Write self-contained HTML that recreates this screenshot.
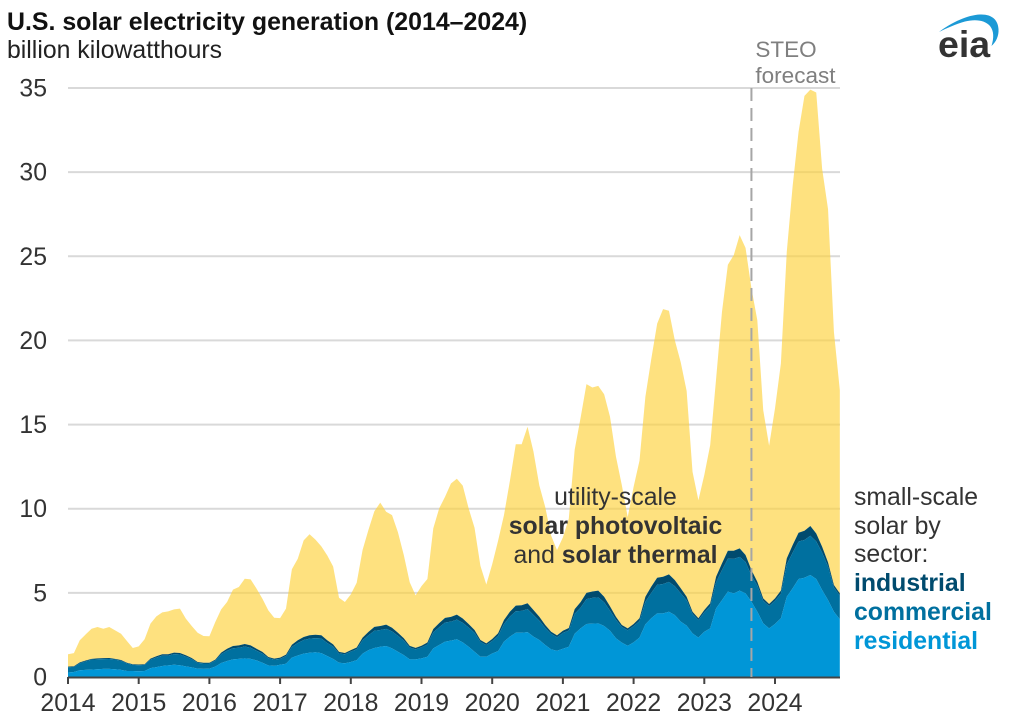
<!DOCTYPE html>
<html lang="en">
<head>
<meta charset="utf-8">
<title>U.S. solar electricity generation (2014–2024)</title>
<style>
html,body{margin:0;padding:0;background:#fff;}
svg{display:block;font-family:"Liberation Sans",Arial,sans-serif;}
text{font-size:24.8px;fill:#333;}
.b{font-weight:bold;}
</style>
</head>
<body>
<svg id="chart" width="1012" height="720" viewBox="0 0 1012 720" xmlns="http://www.w3.org/2000/svg">
  <text x="7" y="30" class="b" style="font-size:24.9px;fill:#111">U.S. solar electricity generation (2014–2024)</text>
  <text x="7" y="58" style="fill:#222">billion kilowatthours</text>
  <g id="grid"></g>
  <g id="areas"></g>
  <g id="axes"></g>
  <g id="forecast"></g>
  <g text-anchor="middle">
    <text x="615.5" y="505">utility-scale</text>
    <text x="615.5" y="534" class="b">solar photovoltaic</text>
    <text x="615.5" y="563">and <tspan class="b">solar thermal</tspan></text>
  </g>
  <g>
    <text x="854" y="505">small-scale</text>
    <text x="854" y="534">solar by</text>
    <text x="854" y="562">sector:</text>
    <text x="854" y="591" class="b" style="fill:#004b6e">industrial</text>
    <text x="854" y="620" class="b" style="fill:#00709f">commercial</text>
    <text x="854" y="649" class="b" style="fill:#0096d7">residential</text>
  </g>
  <g>
    <path d="M939 32 C952 22 968 15 980 14.500 C992 14 998 20 998.500 29 C999 36 996 42 991.500 46 C994 38 994 31 990 26 C985 20 975 19 965 21.500 C956 24 947 28 939 32 Z" fill="#1c9ad6"/>
    <text x="938" y="57" class="b" style="font-size:37.500px;fill:#333">eia</text>
  </g>
</svg>
<script>
// Monthly values, Jan 2014 – Dec 2024 (billion kWh)
const residential = [
  .27,.3,.4,.42,.44,.46,.48,.48,.46,.42,.36,.36,
  .34,.36,.53,.59,.65,.69,.73,.7,.63,.57,.5,.48,
  .5,.62,.83,.95,1.05,1.08,1.11,1.08,.99,.85,.69,.66,
  .73,.79,1.15,1.28,1.39,1.44,1.47,1.42,1.25,1.08,.85,.82,
  .89,1.0,1.39,1.6,1.72,1.8,1.84,1.7,1.5,1.3,1.05,1.05,
  1.11,1.2,1.7,1.9,2.1,2.16,2.24,2.06,1.8,1.5,1.2,1.2,
  1.4,1.54,2.1,2.4,2.63,2.63,2.67,2.4,2.2,1.9,1.64,1.56,
  1.68,1.8,2.57,2.89,3.15,3.17,3.19,3.03,2.75,2.3,2.04,1.86,
  2.06,2.34,3.13,3.49,3.78,3.78,3.88,3.68,3.29,3.05,2.59,2.34,
  2.69,2.89,4.08,4.57,5.07,4.97,5.13,4.97,4.48,3.88,3.19,2.89,
  3.15,3.49,4.77,5.27,5.82,5.9,6.06,5.82,5.17,4.57,3.88,3.43
];
const industrial = [
  .04,.04,.05,.05,.05,.06,.06,.06,.05,.05,.04,.04,
  .04,.04,.06,.07,.08,.08,.09,.09,.08,.07,.05,.05,
  .05,.06,.09,.11,.13,.14,.15,.14,.12,.1,.07,.06,
  .07,.08,.13,.16,.18,.2,.2,.19,.16,.13,.09,.08,
  .09,.1,.16,.2,.23,.24,.25,.22,.18,.14,.1,.09,
  .1,.12,.2,.24,.27,.28,.3,.26,.21,.16,.11,.1,
  .12,.15,.24,.29,.33,.33,.35,.29,.23,.17,.12,.11,
  .13,.15,.27,.33,.37,.38,.4,.33,.26,.18,.12,.11,
  .13,.16,.3,.37,.42,.43,.45,.37,.29,.2,.13,.11,
  .14,.17,.33,.4,.47,.48,.5,.42,.32,.22,.14,.12,
  .14,.18,.36,.45,.52,.55,.58,.47,.35,.24,.15,.13
];
const smallScaleTotal = [
  .62,.64,.87,.98,1.08,1.11,1.12,1.13,1.08,1.01,.85,.76,
  .74,.76,1.09,1.23,1.35,1.35,1.45,1.43,1.29,1.13,.89,.85,
  .85,1.03,1.45,1.68,1.84,1.88,1.96,1.88,1.68,1.49,1.19,1.09,
  1.15,1.33,1.92,2.18,2.38,2.48,2.51,2.48,2.18,1.94,1.49,1.43,
  1.6,1.75,2.34,2.68,2.98,3.03,3.11,2.93,2.63,2.3,1.85,1.73,
  1.86,2.05,2.85,3.2,3.51,3.57,3.71,3.48,3.15,2.79,2.2,2.0,
  2.26,2.6,3.39,3.88,4.24,4.26,4.38,3.98,3.58,3.09,2.69,2.47,
  2.75,2.91,4.03,4.45,5.0,5.08,5.13,4.77,4.2,3.58,3.09,2.89,
  3.15,3.49,4.77,5.37,5.9,5.96,6.1,5.76,5.27,4.77,3.88,3.49,
  3.98,4.38,5.96,6.75,7.5,7.5,7.64,7.25,6.36,5.66,4.67,4.34,
  4.67,5.13,7.05,7.84,8.57,8.69,8.97,8.53,7.74,6.81,5.47,4.97
];
const allSolarTotal = [
  1.35,1.42,2.18,2.53,2.87,2.97,2.87,2.97,2.77,2.57,2.14,1.72,
  1.82,2.24,3.17,3.6,3.84,3.9,4.02,4.06,3.47,3.03,2.63,2.44,
  2.42,3.27,4.02,4.46,5.19,5.35,5.84,5.8,5.25,4.65,3.96,3.52,
  3.5,4.06,6.4,7.03,8.12,8.48,8.16,7.76,7.23,6.57,4.71,4.46,
  4.91,5.6,7.55,8.75,9.85,10.36,9.82,9.62,8.6,7.24,5.63,4.85,
  5.4,5.82,8.83,10.02,10.71,11.5,11.78,11.37,10.02,8.87,6.6,5.5,
  6.7,8.1,9.62,11.65,13.83,13.83,14.87,13.4,11.38,10.1,8.4,7.54,
  8.3,9.4,13.5,15.4,17.4,17.2,17.3,16.8,15.46,13.1,11.4,9.5,
  11.3,12.85,16.65,18.9,21,21.86,21.76,20,18.7,17,12.2,10.5,
  12,13.78,17.7,21.7,24.5,25.07,26.26,25.5,23.1,21.2,15.86,13.74,
  15.96,18.63,25.27,29.2,32.4,34.53,34.9,34.73,30.2,27.8,20.5,17.05
];
const yTicks = [0,5,10,15,20,25,30,35];
const xYears = [2014,2015,2016,2017,2018,2019,2020,2021,2022,2023,2024];
const forecastStartMonth = 116;

const SVGNS = "http://www.w3.org/2000/svg";
function xScale(monthIndex){ return 68 + monthIndex * 70.7 / 12; }
function yScale(value){ return 677 - value * (589 / 35); }
function make(tag, parent, attrs){
  const el = document.createElementNS(SVGNS, tag);
  for (const k in attrs) el.setAttribute(k, attrs[k]);
  parent.appendChild(el);
  return el;
}
function areaPath(lower, upper){
  let d = "";
  for (let i = 0; i < upper.length; i++) d += (i ? "L" : "M") + xScale(i).toFixed(2) + " " + yScale(upper[i]).toFixed(2);
  for (let i = upper.length - 1; i >= 0; i--) d += "L" + xScale(i).toFixed(2) + " " + yScale(lower ? lower[i] : 0).toFixed(2);
  return d + "Z";
}

const gridG = document.getElementById("grid");
const axesG = document.getElementById("axes");
const areasG = document.getElementById("areas");
const fcG = document.getElementById("forecast");

yTicks.forEach(function(t){
  if (t !== 0) {
    const ln = make("line", gridG, {x1:68, x2:840, y1:yScale(t), y2:yScale(t), stroke:"#d9d9d9", "stroke-width":2});
    
    
  }
  const lb = make("text", axesG, {x:47, y:yScale(t) + 8.5, "text-anchor":"end"});
  lb.textContent = t;
  
  
});

const commercialTop = smallScaleTotal.map(function(v, i){ return v - industrial[i]; });
const yellow = make("path", areasG, {d:areaPath(smallScaleTotal, allSolarTotal), fill:"#fed13a", "fill-opacity":.65});


const indArea = make("path", areasG, {d:areaPath(commercialTop, smallScaleTotal), fill:"#004b6e"});


const comArea = make("path", areasG, {d:areaPath(residential, commercialTop), fill:"#00709f"});


const resArea = make("path", areasG, {d:areaPath(null, residential), fill:"#0096d7"});



const baseline = make("line", axesG, {x1:68, x2:840, y1:677.500, y2:677.500, stroke:"#444", "stroke-width":2});


xYears.forEach(function(y, n){
  const x = xScale(n * 12);
  const tk = make("line", axesG, {x1:x, x2:x, y1:677, y2:684, stroke:"#444", "stroke-width":2});
  
  
  const lb = make("text", axesG, {x:x, y:711, "text-anchor":"middle"});
  lb.textContent = y;
  
  
});

const fx = xScale(forecastStartMonth);
const dash = make("line", fcG, {x1:fx, x2:fx, y1:88, y2:677, stroke:"#a6a6a6", "stroke-width":2, "stroke-dasharray":"13 7"});


const s1 = make("text", fcG, {x:fx + 4, y:57, style:"fill:#7f7f7f;font-size:22.500px"});
s1.textContent = "STEO";


const s2 = make("text", fcG, {x:fx + 4, y:83, style:"fill:#7f7f7f;font-size:22.500px"});
s2.textContent = "forecast";


</script>
</body>
</html>
